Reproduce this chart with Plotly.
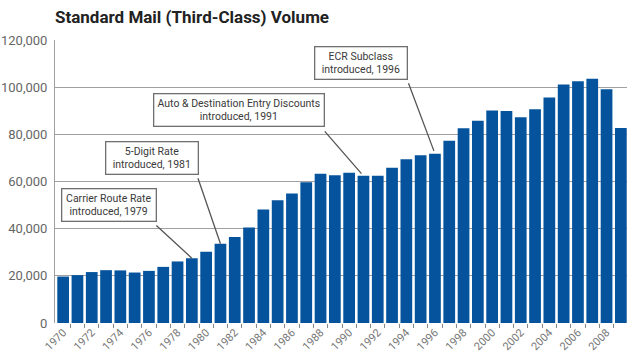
import plotly.graph_objects as go

years = list(range(1970, 2010))
volume = [19700, 20300, 21600, 22400, 22300, 21400, 22100, 23800, 26100, 27500,
          30200, 33600, 36500, 40500, 48100, 52000, 54900, 59700, 63300, 62700,
          63700, 62400, 62400, 65800, 69400, 71100, 71800, 77300, 82600, 85800,
          90100, 89900, 87200, 90600, 95600, 101100, 102500, 103600, 99100, 82700]

tick_years = [y for y in years if y % 2 == 0]
y_ticks = [0, 20000, 40000, 60000, 80000, 100000, 120000]

events = [
    (1979, "Carrier Route Rate<br>introduced, 1979"),
    (1981, "5-Digit Rate<br>introduced, 1981"),
    (1991, "Auto & Destination Entry Discounts<br>introduced, 1991"),
    (1996, "ECR Subclass<br>introduced, 1996"),
]
# (box shift x, box shift y, box width, arrow tail ax, ay, standoff)
event_layout = [
    (-82.5, 53, 88, -37, -34, 0),
    (-68, 86, 86, -23, -67, 0),
    (-124, 66, 164, -40, -46, 3),
    (-73.5, 91, 86, -27, -72, 3),
]

FONT = "Roboto, Liberation Sans, sans-serif"
BLUE = "#04539c"

fig = go.Figure()
fig.add_trace(go.Bar(x=years, y=volume, marker=dict(color=BLUE, line=dict(width=0)),
                     width=0.82, hoverinfo="x+y"))

annotations = []
for (yr, text), (sx, sy, w, ax, ay, so) in zip(events, event_layout):
    val = volume[years.index(yr)]
    annotations.append(dict(
        x=yr, y=val, xref="x", yref="y", text=text, showarrow=False,
        xshift=sx, yshift=sy, xanchor="center", yanchor="middle",
        width=w, align="center", bgcolor="white", bordercolor="#6f6f6f",
        borderwidth=1.3, borderpad=2.5,
        font=dict(family=FONT, size=10.5, color="#3a3a3a")))
    annotations.append(dict(
        x=yr, y=val, xref="x", yref="y", text="", showarrow=True,
        arrowhead=0, arrowwidth=1.3, arrowcolor="#555555", ax=ax, ay=ay,
        standoff=so, font=dict(size=1)))

fig.update_layout(
    width=630, height=361,
    margin=dict(l=55, r=3, t=40, b=38, autoexpand=False),
    paper_bgcolor="white", plot_bgcolor="white",
    showlegend=False,
    bargap=0.18,
    title=dict(text="<b>Standard Mail (Third-Class) Volume</b>",
               x=55/630, xanchor="left", y=1 - 17/361, yanchor="middle",
               font=dict(family=FONT, size=17, color="#222222")),
    xaxis=dict(range=[1969.43, 2009.43], tickmode="array",
               tickvals=tick_years,
               ticktext=[str(y) for y in tick_years],
               tickangle=-45, ticks="", showgrid=False, zeroline=False,
               showline=False, automargin=False,
               tickfont=dict(family=FONT, size=11, color="#777777"),
               minor=dict(tickmode="array",
                          tickvals=[y + 0.5 for y in years[:-1]],
                          ticks="outside", ticklen=4, tickwidth=1,
                          tickcolor="#888888", showgrid=False)),
    yaxis=dict(range=[0, 120000], tickmode="array", tickvals=y_ticks,
               ticktext=[f"{v:,}" for v in y_ticks],
               showgrid=True, gridcolor="#a0a0a0", gridwidth=1,
               zeroline=False, showline=True, linecolor="#a0a0a0", linewidth=1,
               ticks="outside", ticklen=4, tickcolor="rgba(0,0,0,0)",
               automargin=False,
               tickfont=dict(family=FONT, size=13, color="#666666")),
    annotations=annotations,
)

fig.write_html("out.html", config={"displayModeBar": False},
               post_script="document.body.style.margin='0';")
